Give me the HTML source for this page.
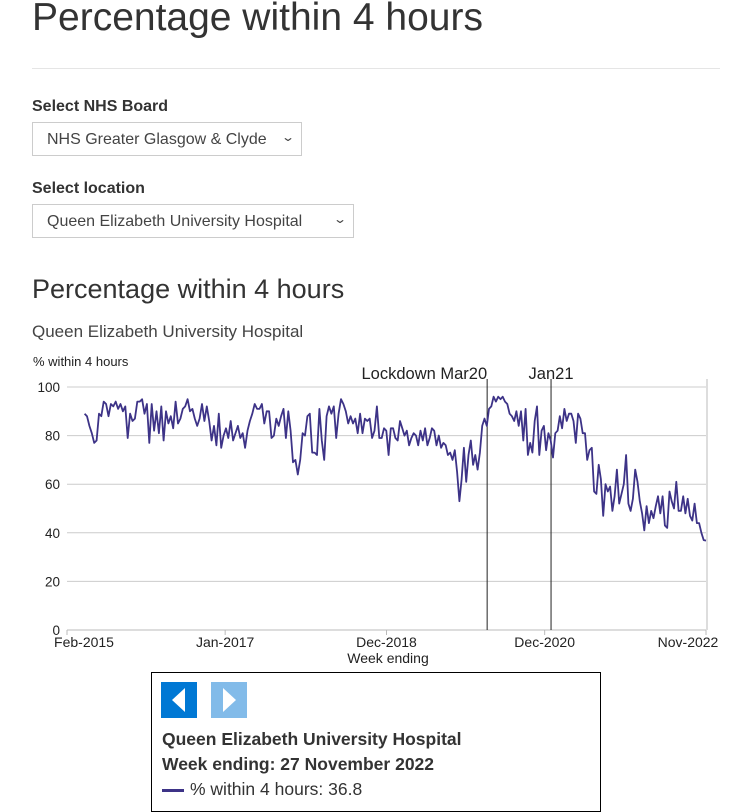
<!DOCTYPE html>
<html><head><meta charset="utf-8">
<style>
body{margin:0;width:734px;height:809px;overflow:hidden;background:#fff;font-family:"Liberation Sans",Arial,sans-serif;color:#333;position:relative}
.abs{position:absolute}
h1{position:absolute;left:32px;top:-4px;margin:0;font-weight:400;font-size:39px;color:#333}
.hr{position:absolute;left:32px;top:68px;width:688px;height:1px;background:#e5e5e5}
.lbl{position:absolute;left:32px;font-weight:700;font-size:16px;color:#333}
.sel{position:absolute;left:32px;height:34px;border:1px solid #ccc;font-size:16px;line-height:33px;padding-left:14px;box-sizing:border-box;color:#444;background:#fff}
.sel span.ch{position:absolute;right:8px;top:-2px;font-size:12px;transform:scaleX(1.4)}
h2{position:absolute;left:32px;top:274px;margin:0;font-weight:400;font-size:27px;color:#333}
.sub{position:absolute;left:32px;top:322px;font-size:17px;color:#444}
#tip{position:absolute;left:151px;top:672px;width:450px;height:140px;border:1px solid #000;box-sizing:border-box;background:#fff}
.btn{position:absolute;top:9px;width:36px;height:36px}
.tt{position:absolute;left:10px;font-size:17.5px;color:#333}
</style></head><body>
<h1>Percentage within 4 hours</h1>
<div class="hr"></div>
<div class="lbl" style="top:98px">Select NHS Board</div>
<div class="sel" style="top:122px;width:270px">NHS Greater Glasgow &amp; Clyde<span class="ch">&#8964;</span></div>
<div class="lbl" style="top:180px">Select location</div>
<div class="sel" style="top:204px;width:322px">Queen Elizabeth University Hospital<span class="ch">&#8964;</span></div>
<h2>Percentage within 4 hours</h2>
<div class="sub">Queen Elizabeth University Hospital</div>
<svg id="chart" class="abs" style="left:0;top:340px" width="734" height="330"></svg>
<div id="tip">
  <div class="btn" style="left:9px;background:#0078d4"><svg width="36" height="36"><polygon points="24,6 11,18 24,30" fill="#fff"/></svg></div>
  <div class="btn" style="left:59px;background:#82bbe9"><svg width="36" height="36"><polygon points="12,6 25,18 12,30" fill="#fff"/></svg></div>
  <div class="tt" style="top:56px;font-weight:700">Queen Elizabeth University Hospital</div>
  <div class="tt" style="top:81px;font-weight:700">Week ending: 27 November 2022</div>
  <div class="tt" style="top:106px"><span style="display:inline-block;width:22px;height:3px;background:#3d3387;vertical-align:middle;margin-right:6px"></span>% within 4 hours: 36.8</div>
</div>
<script>
const yTicks=[0,20,40,60,80,100];
const xTickLabels=["Feb-2015","Jan-2017","Dec-2018","Dec-2020","Nov-2022"];
const xTickWeeks=[0,99,200,299,400];
const eventLabels=["Lockdown Mar20","Jan21"];
const eventWeeks=[263,303];
const segAStartWeek=11, segAEndWeek=195.5;
const segBStartWeek=197, segBEndWeek=400;
const valuesA=[89,88,84,81,77,78,89,88,94,93,88,93,92,94,91,93,90,92,79,89,86,87,94,94,95,89,93,77,93,82,90,81,92,78,90,85,88,83,94,85,87,91,92,95,90,91,87,84,87,93,86,92,86,78,84,76,89,75,80,83,79,86,78,81,84,79,81,75,82,86,89,93,91,91,93,85,90,90,79,80,87,84,88,91,79,90,82,69,70,64,70,81,80,88,89,73,73,72,91,78,70,88,92,89,92,79,89,95,93,90,85,88,85,87,81,89,81,87,86,87,79,82,92,79];
const valuesB=[79,83,82,72,83,83,79,78,86,83,80,82,76,79,81,80,76,82,78,83,76,79,83,82,76,80,75,77,76,72,73,70,74,65,53,62,75,61,72,78,68,72,66,73,84,87,84,91,92,96,94,96,95,96,94,93,89,88,86,90,84,90,78,91,72,77,73,86,92,72,82,84,74,81,78,71,81,82,88,83,91,86,89,89,86,77,89,87,81,81,70,74,75,57,56,68,62,47,60,57,59,49,55,66,52,56,60,72,52,49,54,66,61,53,48,41,51,44,49,46,51,55,48,55,43,42,57,53,50,61,49,49,55,48,54,47,45,52,44,44,40,37,36.8];

const svg=document.getElementById('chart');const NS='http://www.w3.org/2000/svg';
const X0=67,X1=706,Y0=290,Y1=47;
const FF='Liberation Sans,Arial,sans-serif';
const xs=w=>X0+(w-xTickWeeks[0])/(xTickWeeks[xTickWeeks.length-1]-xTickWeeks[0])*(X1-X0);
const ys=v=>Y0+(v-0)/(100-0)*(Y1-Y0);
function el(t,a,parent){const e=document.createElementNS(NS,t);for(const k in a)e.setAttribute(k,a[k]);(parent||svg).appendChild(e);return e;}
const yl=el('text',{x:33,y:26,'font-size':13,fill:'#222','font-family':FF});


yl.textContent='% within 4 hours';
yTicks.forEach(t=>{
  const g=el('line',{x1:X0,x2:X1,y1:ys(t),y2:ys(t),stroke:t===0?'#bbb':'#ccc','stroke-width':1});
  
  
  const tx=el('text',{x:60,y:ys(t)+5,'font-size':13.5,fill:'#222','text-anchor':'end','font-family':FF});
  
  
  tx.textContent=t;
});
const ra=el('line',{x1:X1+1,x2:X1+1,y1:Y1-8,y2:Y0,stroke:'#ddd','stroke-width':2});


const lastTick=xTickLabels.length-1;
xTickLabels.forEach((l,i)=>{
  const x=xs(xTickWeeks[i]);
  const tk=el('line',{x1:x,x2:x,y1:Y0,y2:Y0+5,stroke:'#bbb'});
  
  
  const off=i===0?17:(i===lastTick?-18:0);
  const tx=el('text',{x:x+off,y:Y0+17,'font-size':14,fill:'#222','text-anchor':'middle','font-family':FF});
  
  
  tx.textContent=l;
});
const xt=el('text',{x:388,y:Y0+33,'font-size':14,fill:'#222','text-anchor':'middle','font-family':FF});


xt.textContent='Week ending';
eventLabels.forEach((l,i)=>{
  const x=xs(eventWeeks[i]);
  const ln=el('line',{x1:x,x2:x,y1:Y1-8,y2:Y0,stroke:'#222','stroke-width':1});
  
  
  const tx=el('text',{x:x,y:Y1-8,'font-size':16.5,fill:'#222','text-anchor':i===0?'end':'middle','font-family':FF});
  
  
  tx.textContent=l;
});
let d='';
function addSeg(vals,w0,w1,first){
  const n=vals.length;
  vals.forEach((v,i)=>{const w=w0+i*(w1-w0)/(n-1);d+=((first&&i===0)?'M':'L')+xs(w).toFixed(1)+','+ys(v).toFixed(1);});
}
addSeg(valuesA,segAStartWeek,segAEndWeek,true);
addSeg(valuesB,segBStartWeek,segBEndWeek,false);
const p=el('path',{d:d,fill:'none',stroke:'#3d3387','stroke-width':1.8,'stroke-linejoin':'round'});


</script>
</body></html>
